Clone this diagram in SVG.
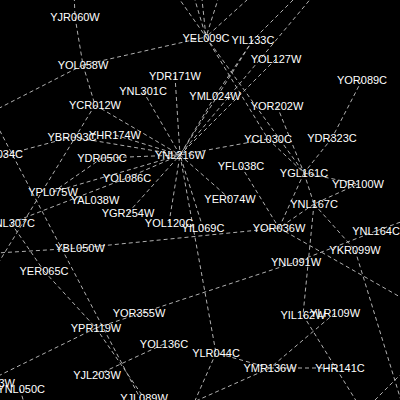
<svg xmlns="http://www.w3.org/2000/svg" width="400" height="400" viewBox="0 0 400 400">
<style>
.e{stroke:#b0b0b0;stroke-width:1;stroke-dasharray:4 3;fill:none}
.n text{font-family:"Liberation Sans",Arial,sans-serif;font-size:11px;fill:#fff;text-anchor:middle}
</style>
<rect width="400" height="400" fill="#000"/>
<g id="edges" class="edges">
<line class="e" x1="173" y1="-10" x2="206" y2="37"/>
<line class="e" x1="192" y1="-10" x2="206" y2="37"/>
<line class="e" x1="201" y1="-10" x2="206" y2="37"/>
<line class="e" x1="221" y1="-10" x2="206" y2="37"/>
<line class="e" x1="258" y1="-10" x2="206" y2="37"/>
<line class="e" x1="303" y1="-10" x2="253" y2="40"/>
<line class="e" x1="318" y1="-10" x2="180" y2="155"/>
<line class="e" x1="74" y1="-10" x2="75" y2="17"/>
<line class="e" x1="75" y1="17" x2="83" y2="65"/>
<line class="e" x1="83" y1="65" x2="95" y2="105"/>
<line class="e" x1="83" y1="65" x2="-20" y2="118"/>
<line class="e" x1="83" y1="65" x2="206" y2="37"/>
<line class="e" x1="206" y1="37" x2="268" y2="139"/>
<line class="e" x1="206" y1="37" x2="304" y2="173"/>
<line class="e" x1="253" y1="40" x2="215" y2="96"/>
<line class="e" x1="253" y1="40" x2="180" y2="155"/>
<line class="e" x1="276" y1="59" x2="180" y2="155"/>
<line class="e" x1="175" y1="76" x2="180" y2="155"/>
<line class="e" x1="143" y1="91" x2="180" y2="155"/>
<line class="e" x1="215" y1="96" x2="180" y2="155"/>
<line class="e" x1="95" y1="105" x2="180" y2="155"/>
<line class="e" x1="95" y1="105" x2="-20" y2="293"/>
<line class="e" x1="-3" y1="157" x2="72" y2="137"/>
<line class="e" x1="72" y1="137" x2="180" y2="155"/>
<line class="e" x1="115" y1="135" x2="180" y2="155"/>
<line class="e" x1="102" y1="158" x2="180" y2="155"/>
<line class="e" x1="53" y1="192" x2="102" y2="158"/>
<line class="e" x1="53" y1="192" x2="180" y2="155"/>
<line class="e" x1="127" y1="178" x2="180" y2="155"/>
<line class="e" x1="128" y1="213" x2="180" y2="155"/>
<line class="e" x1="169" y1="223" x2="180" y2="155"/>
<line class="e" x1="203" y1="228" x2="180" y2="155"/>
<line class="e" x1="180" y1="155" x2="216" y2="353"/>
<line class="e" x1="230" y1="199" x2="180" y2="155"/>
<line class="e" x1="268" y1="139" x2="180" y2="155"/>
<line class="e" x1="268" y1="139" x2="304" y2="173"/>
<line class="e" x1="277" y1="106" x2="304" y2="173"/>
<line class="e" x1="362" y1="80" x2="332" y2="138"/>
<line class="e" x1="332" y1="138" x2="304" y2="173"/>
<line class="e" x1="304" y1="173" x2="358" y2="184"/>
<line class="e" x1="304" y1="173" x2="314" y2="204"/>
<line class="e" x1="304" y1="173" x2="279" y2="228"/>
<line class="e" x1="314" y1="204" x2="279" y2="228"/>
<line class="e" x1="358" y1="184" x2="314" y2="204"/>
<line class="e" x1="241" y1="166" x2="279" y2="228"/>
<line class="e" x1="314" y1="204" x2="303" y2="315"/>
<line class="e" x1="314" y1="204" x2="355" y2="250"/>
<line class="e" x1="420" y1="215" x2="376" y2="231"/>
<line class="e" x1="376" y1="231" x2="296" y2="262"/>
<line class="e" x1="279" y1="228" x2="430" y2="314"/>
<line class="e" x1="355" y1="250" x2="407" y2="420"/>
<line class="e" x1="-20" y1="254" x2="80" y2="248"/>
<line class="e" x1="80" y1="248" x2="279" y2="228"/>
<line class="e" x1="96" y1="328" x2="296" y2="262"/>
<line class="e" x1="303" y1="315" x2="368" y2="420"/>
<line class="e" x1="335" y1="313" x2="270" y2="368"/>
<line class="e" x1="270" y1="368" x2="340" y2="368"/>
<line class="e" x1="270" y1="368" x2="216" y2="353"/>
<line class="e" x1="216" y1="353" x2="190" y2="412"/>
<line class="e" x1="270" y1="368" x2="180" y2="408"/>
<line class="e" x1="370" y1="405" x2="405" y2="370"/>
<line class="e" x1="11" y1="223" x2="127" y2="178"/>
<line class="e" x1="11" y1="223" x2="44" y2="271"/>
<line class="e" x1="-10" y1="112" x2="140" y2="398"/>
<line class="e" x1="44" y1="271" x2="96" y2="328"/>
<line class="e" x1="96" y1="328" x2="144" y2="398"/>
<line class="e" x1="96" y1="328" x2="-12" y2="381"/>
<line class="e" x1="20" y1="389" x2="26" y2="410"/>
<line class="e" x1="164" y1="344" x2="97" y2="375"/>
</g>
<g class="n">
<g id="YJR060W"><text x="75" y="21">YJR060W</text></g>
<g id="YEL009C"><text x="206" y="42">YEL009C</text></g>
<g id="YIL133C"><text x="253" y="44">YIL133C</text></g>
<g id="YOL058W"><text x="83" y="69">YOL058W</text></g>
<g id="YOL127W"><text x="276" y="63">YOL127W</text></g>
<g id="YDR171W"><text x="175" y="80">YDR171W</text></g>
<g id="YOR089C"><text x="362" y="84">YOR089C</text></g>
<g id="YNL301C"><text x="143" y="95">YNL301C</text></g>
<g id="YML024W"><text x="215" y="100">YML024W</text></g>
<g id="YOR202W"><text x="277" y="110">YOR202W</text></g>
<g id="YCR012W"><text x="95" y="109">YCR012W</text></g>
<g id="YHR174W"><text x="115" y="139">YHR174W</text></g>
<g id="YBR093C"><text x="72" y="141">YBR093C</text></g>
<g id="YCL030C"><text x="268" y="143">YCL030C</text></g>
<g id="YDR323C"><text x="332" y="142">YDR323C</text></g>
<g id="YDR034C"><text x="23" y="158" style="text-anchor:end">YDR034C</text></g>
<g id="YNL216W"><text x="180" y="159">YNL216W</text></g>
<g id="YDR050C"><text x="102" y="162">YDR050C</text></g>
<g id="YFL038C"><text x="241" y="170">YFL038C</text></g>
<g id="YGL161C"><text x="304" y="177">YGL161C</text></g>
<g id="YOL086C"><text x="127" y="182">YOL086C</text></g>
<g id="YDR100W"><text x="358" y="188">YDR100W</text></g>
<g id="YPL075W"><text x="53" y="196">YPL075W</text></g>
<g id="YER074W"><text x="230" y="203">YER074W</text></g>
<g id="YAL038W"><text x="95" y="204">YAL038W</text></g>
<g id="YNL167C"><text x="314" y="208">YNL167C</text></g>
<g id="YGR254W"><text x="128" y="217">YGR254W</text></g>
<g id="YOL120C"><text x="169" y="227">YOL120C</text></g>
<g id="YNL307C"><text x="35" y="227" style="text-anchor:end">YNL307C</text></g>
<g id="YIL069C"><text x="203" y="232">YIL069C</text></g>
<g id="YOR036W"><text x="279" y="232">YOR036W</text></g>
<g id="YNL164C"><text x="376" y="235">YNL164C</text></g>
<g id="YBL050W"><text x="80" y="252">YBL050W</text></g>
<g id="YKR099W"><text x="355" y="254">YKR099W</text></g>
<g id="YNL091W"><text x="296" y="266">YNL091W</text></g>
<g id="YER065C"><text x="44" y="275">YER065C</text></g>
<g id="YOR355W"><text x="139" y="317">YOR355W</text></g>
<g id="YLR109W"><text x="335" y="317">YLR109W</text></g>
<g id="YIL162W"><text x="303" y="319">YIL162W</text></g>
<g id="YPR119W"><text x="96" y="332">YPR119W</text></g>
<g id="YOL136C"><text x="164" y="348">YOL136C</text></g>
<g id="YLR044C"><text x="216" y="357">YLR044C</text></g>
<g id="YMR136W"><text x="270" y="372">YMR136W</text></g>
<g id="YHR141C"><text x="340" y="372">YHR141C</text></g>
<g id="YJL203W"><text x="97" y="379">YJL203W</text></g>
<g id="YGL233W"><text x="15" y="387" style="text-anchor:end">YGL233W</text></g>
<g id="YNL050C"><text x="45" y="393" style="text-anchor:end">YNL050C</text></g>
<g id="YJL089W"><text x="144" y="402">YJL089W</text></g>
</g>
</svg>
